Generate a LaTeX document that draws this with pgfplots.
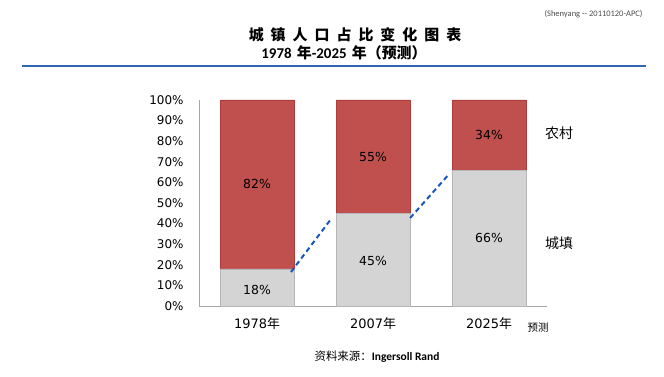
\documentclass[border=0pt]{standalone}
\usepackage{pgfplots}
\pgfplotsset{compat=1.18}
\usepackage{fontspec}
\setmainfont{DejaVu Sans}
\newfontfamily\cjk{Noto Sans CJK SC}
\newfontfamily\calib{Carlito}
\definecolor{barred}{RGB}{192,80,77}
\definecolor{barredborder}{RGB}{175,60,58}
\definecolor{bargray}{RGB}{212,212,212}
\definecolor{bargrayedge}{RGB}{180,182,186}
\definecolor{dashblue}{RGB}{25,85,190}
\definecolor{ruleblue}{RGB}{50,100,180}
\begin{document}
\begin{tikzpicture}[x=1bp,y=1bp]
\useasboundingbox (0,0) rectangle (664,376);
% top-right note
\node[anchor=east,font=\fontsize{8.5}{9}\selectfont\calib,text=black!70] at (646,362) {(Shenyang -- 20110120-APC)};
% title
\node[font=\fontsize{15}{17}\selectfont\cjk\bfseries] at (355,341) {城\hspace{7bp}镇\hspace{7bp}人\hspace{7bp}口\hspace{7bp}占\hspace{7bp}比\hspace{7bp}变\hspace{7bp}化\hspace{7bp}图\hspace{7bp}表};
\node[font=\fontsize{15}{17}\selectfont\bfseries] at (344,323) {{\calib 1978} {\cjk 年}{\calib -2025} {\cjk 年（预测）}};
% rule
\draw[ruleblue,line width=2bp] (22,310) -- (646,310);
\begin{axis}[
  at={(199bp,70bp)}, anchor=south west,
  scale only axis, width=348bp, height=206bp,
  xmin=-0.5, xmax=2.5, ymin=0, ymax=100,
  axis lines=left, axis line style={black!35,-},
  xtick={0,1,2}, xticklabels={1978{\cjk 年},2007{\cjk 年},2025{\cjk 年}},
  ytick={0,10,...,100},
  yticklabel={\pgfmathprintnumber{\tick}\%},
  /pgf/number format/assume math mode=true,
  major tick length=0pt,
  yticklabel style={xshift=-12bp, font=\fontsize{12}{13}\selectfont},
  xticklabel style={yshift=-8bp, font=\fontsize{13}{14}\selectfont},
  clip=false,
]
% rural share drawn as full-height bar, urban share drawn on top of it
\addplot[ybar, bar width=74bp, bar shift=0pt, fill=barred, draw=barredborder, line width=0.6bp] coordinates {(0,100) (1,100) (2,100)};
\addplot[ybar, bar width=74bp, bar shift=0pt, fill=bargray, draw=bargrayedge, line width=0.8bp] coordinates {(0,18) (1,45) (2,66)};
\addplot[sharp plot, dashblue, line width=2bp, dash pattern=on 5bp off 3.5bp] coordinates {(0.293,16.5) (0.638,42.2)};
\addplot[sharp plot, dashblue, line width=2bp, dash pattern=on 5bp off 3.5bp] coordinates {(1.32,42.7) (1.655,64)};
\node[font=\fontsize{12.5}{14}\selectfont] at (axis cs:0,8) {18\%};
\node[font=\fontsize{12.5}{14}\selectfont] at (axis cs:0,59) {82\%};
\node[font=\fontsize{12.5}{14}\selectfont] at (axis cs:1,22) {45\%};
\node[font=\fontsize{12.5}{14}\selectfont] at (axis cs:1,72.5) {55\%};
\node[font=\fontsize{12.5}{14}\selectfont] at (axis cs:2,33) {66\%};
\node[font=\fontsize{12.5}{14}\selectfont] at (axis cs:2,83) {34\%};
\end{axis}
\node[font=\fontsize{14}{16}\selectfont\cjk] at (559,243) {农村};
\node[font=\fontsize{14}{16}\selectfont\cjk] at (559,133) {城填};
\node[font=\fontsize{10.5}{12}\selectfont\cjk] at (538,48) {预测};
\node[font=\fontsize{11.5}{13}\selectfont] at (377,19) {{\cjk 资料来源：}{\calib\bfseries Ingersoll Rand}};
\end{tikzpicture}
\end{document}
